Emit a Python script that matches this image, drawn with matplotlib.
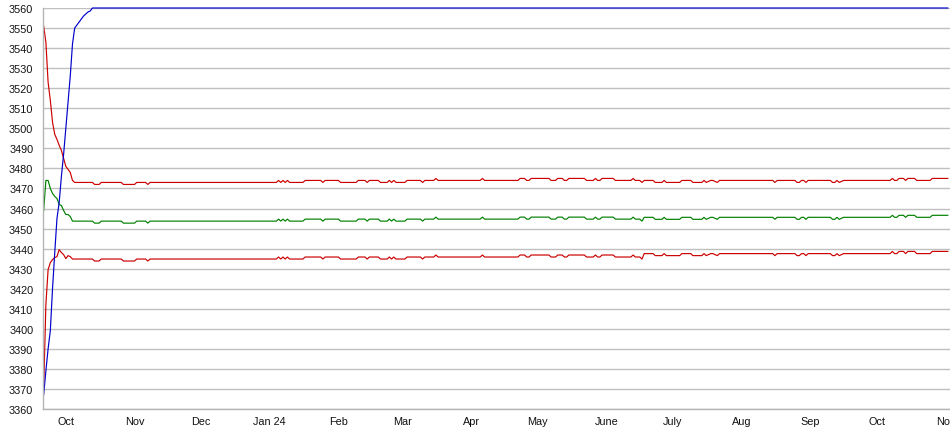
import numpy as np
import matplotlib
matplotlib.use("Agg")
import matplotlib.pyplot as plt
import matplotlib.dates as mdates

plt.rcParams["font.family"] = ["Liberation Sans", "DejaVu Sans"]

start = np.datetime64("2023-09-21")

# day offsets from start shared by the two red lines and the green line
days = [0, 1, 2, 3, 4, 5, 6, 7, 8, 9, 10, 11, 12, 13,
        14, 22, 23, 25, 26, 35, 36, 41, 42, 46, 47, 48,
        105, 106, 107, 108, 109, 110, 111,
        117, 118, 125, 126, 127, 133, 134, 141,
        142, 145, 146, 147, 151, 152, 155,
        156, 157, 158, 159, 163, 164, 170, 171,
        172, 176, 177, 178, 197, 198, 199,
        214, 215, 217, 218, 219, 220, 228,
        229, 231, 232, 234, 235, 236, 237,
        244, 245, 248, 249, 250, 251, 252,
        257, 258, 265, 266, 267, 269, 270,
        271, 275, 276, 279, 280, 281, 287, 288, 292, 293,
        297, 298, 299, 301, 302, 304, 305, 329, 330, 331,
        339, 340, 341, 342, 343, 344, 345, 355, 356, 357,
        358, 359, 361, 382, 383, 384, 385, 386, 388, 389,
        390, 393, 394, 400, 401, 408]

upper = [3551, 3543, 3523, 3514, 3503, 3497, 3494.5, 3491.5, 3489, 3485, 3481, 3479.5, 3478, 3474,
         3473, 3473, 3472, 3472, 3473, 3473, 3472, 3472, 3473, 3473, 3472, 3473,
         3473, 3474, 3473, 3474, 3473, 3474, 3473,
         3473, 3474, 3474, 3473, 3474, 3474, 3473, 3473,
         3474, 3474, 3473, 3474, 3474, 3473, 3473,
         3474, 3473, 3474, 3473, 3473, 3474, 3474, 3473,
         3474, 3474, 3475, 3474, 3474, 3475, 3474,
         3474, 3475, 3475, 3474, 3474, 3475, 3475,
         3474, 3474, 3475, 3475, 3474, 3474, 3475,
         3475, 3474, 3474, 3475, 3474, 3474, 3475,
         3475, 3474, 3474, 3475, 3474, 3474, 3473,
         3474, 3474, 3473, 3473, 3474, 3473, 3473, 3474, 3474, 3473,
         3473, 3474, 3473, 3474, 3474, 3473, 3474, 3474, 3473, 3474,
         3474, 3473, 3473, 3474, 3474, 3473, 3474, 3474, 3473, 3473,
         3474, 3473, 3474, 3474, 3475, 3474, 3474, 3475, 3475, 3474,
         3475, 3475, 3474, 3474, 3475, 3475]

middle = [3459, 3474, 3474, 3470, 3467.5, 3466, 3465, 3462, 3461.5, 3459, 3457, 3457, 3456, 3453.7,
          3453.7, 3453.7, 3452.7, 3452.7, 3453.7, 3453.7, 3452.7, 3452.7, 3453.7, 3453.7, 3452.7, 3453.7,
          3453.7, 3454.7, 3453.7, 3454.7, 3453.7, 3454.7, 3453.7,
          3453.7, 3454.7, 3454.7, 3453.7, 3454.7, 3454.7, 3453.7, 3453.7,
          3454.7, 3454.7, 3453.7, 3454.7, 3454.7, 3453.7, 3453.7,
          3454.7, 3453.7, 3454.7, 3453.7, 3453.7, 3454.7, 3454.7, 3453.7,
          3454.7, 3454.7, 3455.7, 3454.7, 3454.7, 3455.7, 3454.7,
          3454.7, 3455.7, 3455.7, 3454.7, 3454.7, 3455.7, 3455.7,
          3454.7, 3454.7, 3455.7, 3455.7, 3454.7, 3454.7, 3455.7,
          3455.7, 3454.7, 3454.7, 3455.7, 3454.7, 3454.7, 3455.7,
          3455.7, 3454.7, 3454.7, 3455.7, 3454.7, 3454.7, 3453.7,
          3455.6, 3455.6, 3454.6, 3454.6, 3455.6, 3454.6, 3454.6, 3455.6, 3455.6, 3454.6,
          3454.6, 3455.6, 3454.6, 3455.6, 3455.6, 3454.6, 3455.6, 3455.6, 3454.6, 3455.6,
          3455.6, 3454.6, 3454.6, 3455.6, 3455.6, 3454.6, 3455.6, 3455.6, 3454.6, 3454.6,
          3455.6, 3454.6, 3455.6, 3455.6, 3456.6, 3455.6, 3455.6, 3456.6, 3456.6, 3455.6,
          3456.6, 3456.6, 3455.6, 3455.6, 3456.6, 3456.6]

lower = [3370, 3412, 3429.5, 3433, 3434.5, 3435.5, 3436, 3439.5, 3438, 3437, 3435, 3436.5, 3436, 3434.8,
         3434.8, 3434.8, 3433.8, 3433.8, 3434.8, 3434.8, 3433.8, 3433.8, 3434.8, 3434.8, 3433.8, 3434.8,
         3434.8, 3435.8, 3434.8, 3435.8, 3434.8, 3435.8, 3434.8,
         3434.8, 3435.8, 3435.8, 3434.8, 3435.8, 3435.8, 3434.8, 3434.8,
         3435.8, 3435.8, 3434.8, 3435.8, 3435.8, 3434.8, 3434.8,
         3435.8, 3434.8, 3435.8, 3434.8, 3434.8, 3435.8, 3435.8, 3434.8,
         3435.8, 3435.8, 3436.8, 3435.8, 3435.8, 3436.8, 3435.8,
         3435.8, 3436.8, 3436.8, 3435.8, 3435.8, 3436.8, 3436.8,
         3435.8, 3435.8, 3436.8, 3436.8, 3435.8, 3435.8, 3436.8,
         3436.8, 3435.8, 3435.8, 3436.8, 3435.8, 3435.8, 3436.8,
         3436.8, 3435.8, 3435.8, 3436.8, 3435.8, 3435.8, 3434.8,
         3437.5, 3437.5, 3436.5, 3436.5, 3437.5, 3436.5, 3436.5, 3437.5, 3437.5, 3436.5,
         3436.5, 3437.5, 3436.5, 3437.5, 3437.5, 3436.5, 3437.5, 3437.5, 3436.5, 3437.5,
         3437.5, 3436.5, 3436.5, 3437.5, 3437.5, 3436.5, 3437.5, 3437.5, 3436.5, 3436.5,
         3437.5, 3436.5, 3437.5, 3437.5, 3438.6, 3437.5, 3437.5, 3438.6, 3438.6, 3437.5,
         3438.6, 3438.6, 3437.5, 3437.5, 3438.6, 3438.6]

blue_days = [0, 1, 2, 3, 4, 5, 6, 7, 8, 9, 10, 11, 12, 13, 14, 15, 16, 17, 18, 19, 20, 21, 22, 408]
blue = [3367, 3379, 3390, 3399, 3420, 3438, 3455, 3463, 3476, 3487, 3500, 3513, 3526, 3542,
        3550, 3551.5, 3553, 3554.5, 3556, 3557, 3558, 3558.5, 3560, 3560]

month_ticks = ["2023-10-01", "2023-11-01", "2023-12-01", "2024-01-01", "2024-02-01",
               "2024-03-01", "2024-04-01", "2024-05-01", "2024-06-01", "2024-07-01",
               "2024-08-01", "2024-09-01", "2024-10-01", "2024-11-01"]
month_labels = ["Oct", "Nov", "Dec", "Jan 24", "Feb", "Mar", "Apr", "May",
                "June", "July", "Aug", "Sep", "Oct", "Nov"]


def to_num(offsets):
    return mdates.date2num(start + np.array(offsets, dtype="timedelta64[D]"))


fig = plt.figure(figsize=(9.5, 4.35), dpi=100)
ax = fig.add_axes([43 / 950, 25 / 435, 907 / 950, 401 / 435])

x = to_num(days)
ax.plot(x, upper, color="#cc0000", lw=0.85)
ax.plot(x, middle, color="#008000", lw=0.85)
ax.plot(x, lower, color="#cc0000", lw=0.85)
ax.plot(to_num(blue_days), blue, color="#0000cc", lw=0.85, clip_on=False)

ax.set_ylim(3360, 3560)
ax.set_yticks(np.arange(3360, 3561, 10))
ax.set_xlim(mdates.date2num(start) - 0.3, mdates.date2num(start) + 409)
ax.set_xticks(mdates.date2num(np.array(month_ticks, dtype="datetime64[D]")))
ax.set_xticklabels(month_labels)

ax.grid(axis="y", color="#c0c0c0", lw=1.0)
ax.set_axisbelow(True)
for side in ("top", "right"):
    ax.spines[side].set_visible(False)
for side in ("left", "bottom"):
    ax.spines[side].set_color("#b4b4b4")
    ax.spines[side].set_linewidth(1.0)

ax.tick_params(axis="y", length=0, pad=7, labelsize=7.8, labelcolor="#111111")
ax.tick_params(axis="x", length=0, pad=5, labelsize=7.8, labelcolor="#111111")

fig.savefig("out.png", dpi=100)
